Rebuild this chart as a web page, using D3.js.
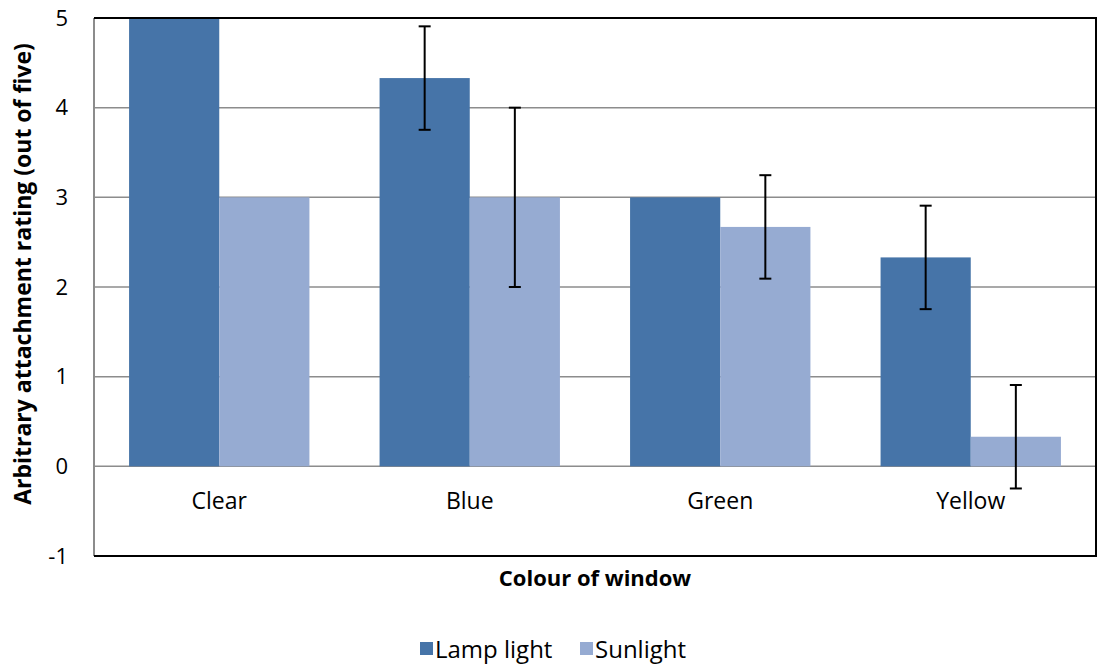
<!DOCTYPE html>
<html><head><meta charset="utf-8">
<script src="https://cdn.jsdelivr.net/npm/d3@7"></script>
<style>body{margin:0;background:#fff}svg{display:block;font-family:"Open Sans",sans-serif}</style>
</head><body><svg id="c" width="1098" height="670"></svg>
<script>
const categories = ["Clear","Blue","Green","Yellow"];
const seriesNames = ["Lamp light","Sunlight"];
const lampValues = [5, 4.33, 3, 2.33];
const sunValues = [3, 3, 2.67, 0.33];
const lampErrors = [0, 0.577, 0, 0.577];
const sunErrors = [0, 1, 0.577, 0.577];
const yTicks = [-1,0,1,2,3,4,5];
const colors = ["#4674a8","#96abd2"];

const svg = d3.select("#c");
const m = {l:94, r:1096, t:18, b:556};
const x = d3.scaleBand().domain(categories).range([m.l, m.r]).paddingInner(0.28).paddingOuter(0.14);
const xs = d3.scaleBand().domain(seriesNames).range([0, x.bandwidth()]);
const y = d3.scaleLinear().domain([-1,5]).range([m.b, m.t]);

// gridlines
svg.append("g").selectAll("line").data(yTicks).join("line")
  .attr("x1", m.l).attr("x2", m.r).attr("y1", d=>y(d)).attr("y2", d=>y(d))
  .attr("stroke", "#8c8c8c").attr("stroke-width", 1.5);

const data = [lampValues, sunValues];
const errs = [lampErrors, sunErrors];
seriesNames.forEach((s, si) => {
  svg.append("g").selectAll("rect").data(categories).join("rect")
    .attr("x", c => x(c) + xs(s))
    .attr("width", xs.bandwidth())
    .attr("y", (c,i) => y(Math.max(0, data[si][i])))
    .attr("height", (c,i) => Math.abs(y(data[si][i]) - y(0)))
    .attr("fill", colors[si]);
});
// error bars
seriesNames.forEach((s, si) => {
  const g = svg.append("g").attr("stroke", "#000").attr("stroke-width", 2);
  categories.forEach((c, i) => {
    const e = errs[si][i]; if (!e) return;
    const cx = x(c) + xs(s) + xs.bandwidth()/2;
    const v = data[si][i];
    g.append("line").attr("x1", cx).attr("x2", cx).attr("y1", y(v+e)).attr("y2", y(v-e));
    g.append("line").attr("x1", cx-6).attr("x2", cx+6).attr("y1", y(v+e)).attr("y2", y(v+e));
    g.append("line").attr("x1", cx-6).attr("x2", cx+6).attr("y1", y(v-e)).attr("y2", y(v-e));
  });
});

// frame
svg.append("line").attr("x1", m.l).attr("x2", m.l).attr("y1", m.t).attr("y2", m.b).attr("stroke", "#8c8c8c").attr("stroke-width", 2);
svg.append("path").attr("d", `M${m.l},${m.t}H${m.r}V${m.b}H${m.l}`).attr("fill","none").attr("stroke","#000").attr("stroke-width",2);

// y ticks
svg.append("g").selectAll("text").data(yTicks).join("text")
  .attr("x", 68).attr("y", d=>y(d)).attr("dy", "0.35em").attr("text-anchor", "end")
  .attr("font-size", 22).attr("fill", "#000").text(d=>d);
// x labels
svg.append("g").selectAll("text").data(categories).join("text")
  .attr("x", c => x(c) + x.bandwidth()/2).attr("y", 509).attr("text-anchor", "middle")
  .attr("font-size", 23).attr("fill", "#000").text(c=>c);

svg.append("text").attr("x", 595).attr("y", 586).attr("text-anchor","middle")
  .attr("font-size", 22).attr("font-weight","bold").text("Colour of window");
svg.append("text").attr("transform", `translate(31,274) rotate(-90)`).attr("text-anchor","middle")
  .attr("font-size", 23).attr("font-weight","bold").text("Arbitrary attachment rating (out of five)");

// legend
const lg = svg.append("g");
const lx = [420, 580];
seriesNames.forEach((s, i) => {
  lg.append("rect").attr("x", lx[i]).attr("y", 642).attr("width", 13).attr("height", 13).attr("fill", colors[i]);
  lg.append("text").attr("x", lx[i] + 15).attr("y", 658).attr("font-size", 24).attr("fill","#000").text(s);
});
</script></body></html>
